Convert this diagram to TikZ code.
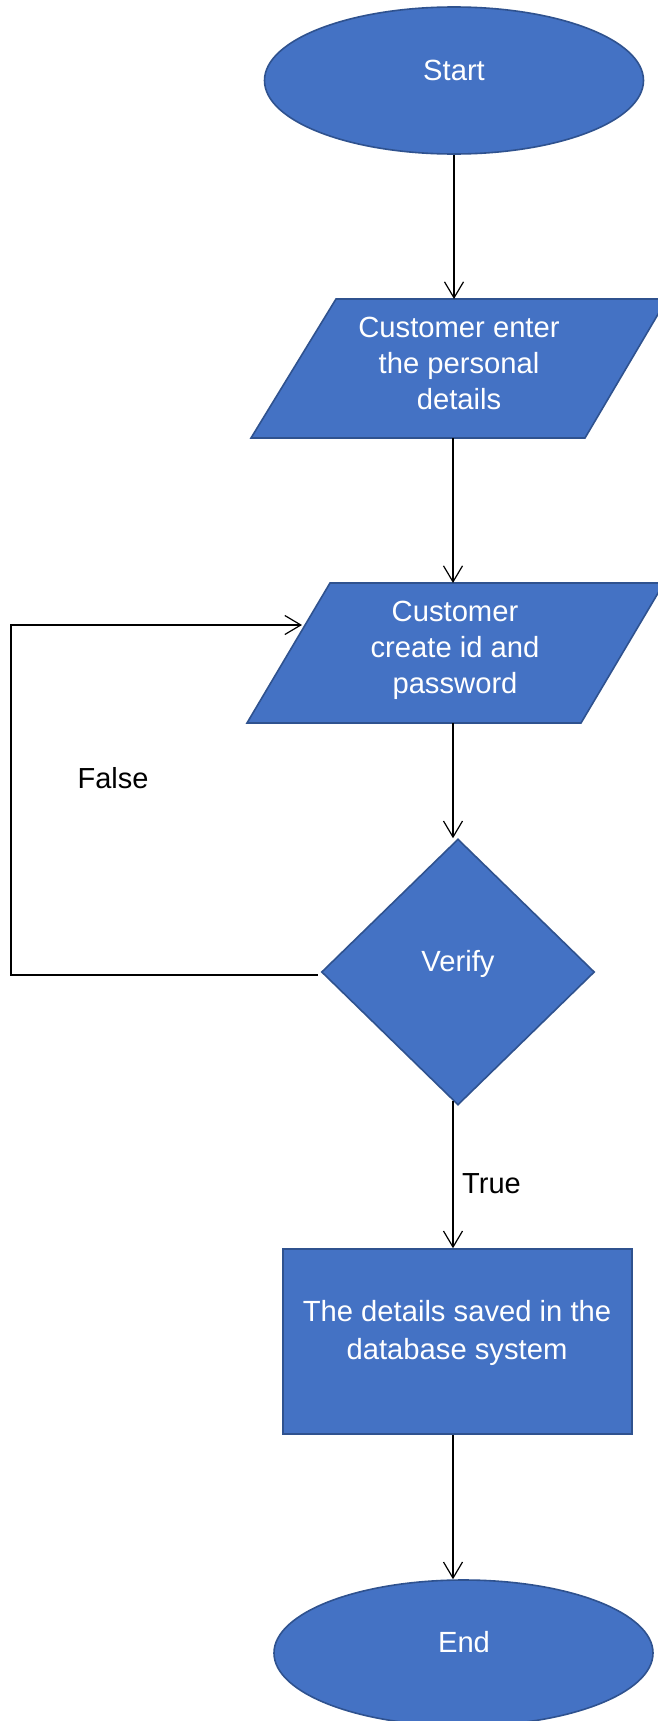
\documentclass[tikz,border=0pt]{standalone}
\usepackage{fontspec}
\setmainfont{Liberation Sans}
\usetikzlibrary{shapes.geometric,arrows.meta,calc}
\definecolor{shapefill}{HTML}{4472C4}
\definecolor{shapeedge}{HTML}{2F528F}
\tikzset{
  shapebox/.style={fill=shapefill, draw=shapeedge, line width=1.6pt, inner sep=0pt},
  lbl/.style={text=white, font=\fontsize{29.2}{36}\selectfont, inner sep=0pt, align=center},
  blk/.style={text=black, font=\fontsize{29}{36}\selectfont, inner sep=0pt},
  conn/.style={draw=black, line width=1.2pt, -{Straight Barb[length=16pt,width=19pt,line width=1.2pt]}}
}
\begin{document}
\begin{tikzpicture}[x=1pt,y=-1pt]
\fill[white] (0,0) rectangle (657,1721);
\useasboundingbox (0,0) rectangle (657,1721);

% Start
\node[shapebox, ellipse, minimum width=379pt, minimum height=147pt] (s) at (454,80.5) {};
\node[lbl, anchor=base] (st) at (454,80) {Start};

% Parallelogram 1
\coordinate (p1tl) at (336,299);
\coordinate (p1tr) at (667,299);
\coordinate (p1br) at (585,438);
\coordinate (p1bl) at (251,438);
\draw[shapebox] (p1tl) -- (p1tr) -- (p1br) -- (p1bl) -- cycle;
\node[lbl] (p1) at (459,363) {Customer enter\\the personal\\details};
\coordinate (p1in) at (454,299);
\coordinate (p1out) at (453,438);

% Parallelogram 2
\coordinate (p2tl) at (330,583);
\coordinate (p2tr) at (664,583);
\coordinate (p2br) at (581,723);
\coordinate (p2bl) at (247,723);
\draw[shapebox] (p2tl) -- (p2tr) -- (p2br) -- (p2bl) -- cycle;
\node[lbl] (p2) at (455,650.5) {Customer\\create id and\\password};
\coordinate (p2in) at (453,583);
\coordinate (p2out) at (453,723);
\coordinate (p2side) at (302,625);

% Decision
\node[shapebox, diamond, minimum width=273pt, minimum height=266pt] (d) at (458,972) {};
\node[lbl, anchor=base] (dt) at (458,971) {Verify};

% Process
\node[shapebox, rectangle, minimum width=349pt, minimum height=185pt] (r) at (457.5,1341.5) {};
\node[lbl, font=\fontsize{29.2}{38}\selectfont] (rt) at (457,1332.5) {The details saved in the\\database system};

% End
\node[shapebox, ellipse, minimum width=379pt, minimum height=146pt] (e) at (463.5,1653) {};
\node[lbl, anchor=base] (et) at (464,1652) {End};

% Loop corner
\coordinate (lc) at (11,625);

% Connectors
\draw[conn] (s.south) -- (p1in);
\draw[conn] (p1out) -- (p2in);
\draw[conn] (p2out) -- (p2out |- d.north);
\draw[conn] ($(d.south)+(-5,-5)$) -- (r.north -| p2out);
\draw[conn] (r.south -| p2out) -- (e.north -| p2out);
\draw[conn] ($(d.west)+(-3,3)$) -| (lc) -- (p2side);

% Labels
\node[blk, anchor=base west] (tl) at (462,1193) {True};
\node[blk, anchor=base] (fl) at (113,788) {False};
\end{tikzpicture}
\end{document}
